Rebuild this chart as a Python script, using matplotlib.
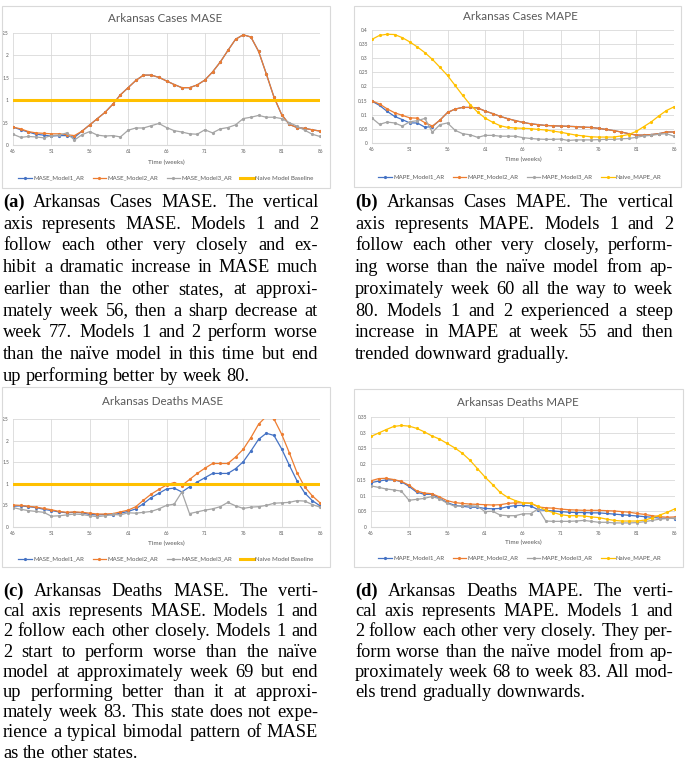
import matplotlib
matplotlib.use("Agg")
import matplotlib.pyplot as plt
from matplotlib.patches import Rectangle
from matplotlib.lines import Line2D
from matplotlib.ticker import FuncFormatter

W, H = 685, 764

weeks = list(range(46, 87))

# Arkansas cases MASE
cases_mase_m1 = [0.40, 0.34, 0.29, 0.24, 0.22, 0.20, 0.21, 0.21, 0.17, 0.31,
                 0.45, 0.59, 0.73, 0.91, 1.12, 1.28, 1.44, 1.56, 1.56, 1.51,
                 1.43, 1.35, 1.28, 1.28, 1.34, 1.45, 1.63, 1.85, 2.11, 2.36,
                 2.46, 2.41, 2.09, 1.59, 1.07, 0.68, 0.46, 0.39, 0.37, 0.34, 0.31]
cases_mase_m2 = [0.40, 0.36, 0.30, 0.27, 0.26, 0.25, 0.25, 0.23, 0.21, 0.31,
                 0.45, 0.59, 0.73, 0.91, 1.12, 1.28, 1.44, 1.56, 1.56, 1.51,
                 1.43, 1.35, 1.28, 1.28, 1.34, 1.45, 1.63, 1.85, 2.11, 2.36,
                 2.46, 2.41, 2.09, 1.59, 1.07, 0.68, 0.46, 0.39, 0.37, 0.34, 0.31]
cases_mase_m3 = [0.24, 0.17, 0.19, 0.18, 0.16, 0.21, 0.22, 0.27, 0.11, 0.23,
                 0.30, 0.22, 0.20, 0.21, 0.18, 0.33, 0.38, 0.38, 0.43, 0.48,
                 0.39, 0.32, 0.29, 0.25, 0.24, 0.34, 0.27, 0.36, 0.39, 0.45,
                 0.59, 0.62, 0.66, 0.62, 0.62, 0.59, 0.50, 0.42, 0.33, 0.24, 0.19]

# Arkansas cases MAPE
cases_mape_m1 = [0.148, 0.133, 0.112, 0.094, 0.083, 0.071, 0.071, 0.056, 0.058, 0.081,
                 0.108, 0.120, 0.126, 0.126, 0.124, 0.113, 0.104, 0.094, 0.086, 0.079,
                 0.073, 0.068, 0.065, 0.062, 0.061, 0.060, 0.059, 0.058, 0.056, 0.055,
                 0.052, 0.048, 0.044, 0.039, 0.033, 0.028, 0.028, 0.030, 0.033, 0.039, 0.039]
cases_mape_m2 = [0.149, 0.138, 0.121, 0.107, 0.098, 0.089, 0.088, 0.072, 0.060, 0.081,
                 0.108, 0.120, 0.126, 0.126, 0.124, 0.113, 0.104, 0.094, 0.086, 0.079,
                 0.073, 0.068, 0.065, 0.062, 0.061, 0.060, 0.059, 0.058, 0.056, 0.055,
                 0.052, 0.048, 0.044, 0.039, 0.033, 0.028, 0.028, 0.030, 0.033, 0.039, 0.039]
cases_mape_m3 = [0.088, 0.066, 0.074, 0.071, 0.060, 0.075, 0.079, 0.087, 0.038, 0.065,
                 0.071, 0.045, 0.033, 0.029, 0.020, 0.027, 0.027, 0.024, 0.024, 0.024,
                 0.019, 0.016, 0.014, 0.013, 0.013, 0.014, 0.009, 0.011, 0.011, 0.011,
                 0.012, 0.013, 0.013, 0.015, 0.016, 0.020, 0.025, 0.027, 0.031, 0.033, 0.024]
cases_mape_naive = [0.367, 0.381, 0.385, 0.384, 0.373, 0.358, 0.340, 0.320, 0.296, 0.268,
                    0.239, 0.204, 0.169, 0.136, 0.109, 0.088, 0.073, 0.061, 0.055, 0.053,
                    0.052, 0.051, 0.048, 0.046, 0.042, 0.038, 0.033, 0.028, 0.025, 0.022,
                    0.021, 0.021, 0.021, 0.025, 0.030, 0.041, 0.058, 0.075, 0.096, 0.115, 0.128]

# Arkansas deaths MASE
deaths_mase_m1 = [0.48, 0.49, 0.47, 0.45, 0.41, 0.38, 0.35, 0.33, 0.34, 0.33,
                  0.29, 0.28, 0.29, 0.28, 0.32, 0.36, 0.42, 0.54, 0.68, 0.78,
                  0.88, 0.90, 0.81, 0.93, 1.04, 1.14, 1.24, 1.24, 1.24, 1.35,
                  1.51, 1.76, 2.03, 2.17, 2.12, 1.81, 1.43, 1.07, 0.79, 0.61, 0.49]
deaths_mase_m2 = [0.51, 0.50, 0.48, 0.46, 0.43, 0.40, 0.36, 0.34, 0.35, 0.34,
                  0.32, 0.30, 0.30, 0.31, 0.35, 0.39, 0.47, 0.62, 0.76, 0.87,
                  0.97, 1.03, 0.96, 1.10, 1.24, 1.36, 1.47, 1.47, 1.47, 1.62,
                  1.80, 2.07, 2.38, 2.56, 2.50, 2.15, 1.72, 1.26, 0.93, 0.72, 0.56]
deaths_mase_m3 = [0.45, 0.41, 0.38, 0.36, 0.34, 0.25, 0.26, 0.28, 0.30, 0.29,
                  0.26, 0.24, 0.26, 0.29, 0.28, 0.33, 0.32, 0.34, 0.36, 0.42,
                  0.50, 0.53, 0.81, 0.31, 0.35, 0.39, 0.42, 0.47, 0.57, 0.49,
                  0.43, 0.46, 0.47, 0.50, 0.55, 0.56, 0.57, 0.61, 0.60, 0.52, 0.46]

# Arkansas deaths MAPE
deaths_mape_m1 = [0.141, 0.146, 0.150, 0.150, 0.144, 0.129, 0.111, 0.104, 0.104, 0.092,
                  0.078, 0.069, 0.066, 0.063, 0.063, 0.059, 0.058, 0.059, 0.065, 0.068,
                  0.069, 0.067, 0.055, 0.053, 0.051, 0.049, 0.047, 0.046, 0.046, 0.045,
                  0.045, 0.043, 0.041, 0.039, 0.037, 0.035, 0.033, 0.031, 0.028, 0.028, 0.027]
deaths_mape_m2 = [0.147, 0.154, 0.155, 0.151, 0.145, 0.133, 0.115, 0.108, 0.106, 0.096,
                  0.084, 0.078, 0.075, 0.073, 0.072, 0.071, 0.070, 0.071, 0.075, 0.077,
                  0.077, 0.076, 0.064, 0.061, 0.060, 0.057, 0.055, 0.054, 0.053, 0.053,
                  0.053, 0.052, 0.051, 0.049, 0.047, 0.043, 0.040, 0.036, 0.033, 0.031, 0.032]
deaths_mape_m3 = [0.131, 0.126, 0.121, 0.118, 0.114, 0.085, 0.088, 0.091, 0.097, 0.090,
                  0.076, 0.066, 0.068, 0.068, 0.066, 0.049, 0.050, 0.038, 0.036, 0.036,
                  0.042, 0.042, 0.058, 0.019, 0.018, 0.018, 0.018, 0.019, 0.021, 0.018,
                  0.015, 0.015, 0.013, 0.013, 0.013, 0.014, 0.017, 0.021, 0.025, 0.027, 0.028]
deaths_mape_naive = [0.288, 0.299, 0.310, 0.320, 0.323, 0.321, 0.314, 0.303, 0.290, 0.280,
                     0.266, 0.252, 0.235, 0.213, 0.186, 0.159, 0.135, 0.110, 0.094, 0.084,
                     0.077, 0.075, 0.066, 0.053, 0.046, 0.039, 0.036, 0.036, 0.035, 0.032,
                     0.030, 0.025, 0.021, 0.019, 0.019, 0.019, 0.022, 0.029, 0.038, 0.047, 0.058]

naive_mase = 1.0
xticks = [46, 51, 56, 61, 66, 71, 76, 81, 86]

mase_labels = ["MASE_Model1_AR", "MASE_Model2_AR", "MASE_Model3_AR", "Naive Model Baseline"]
mape_labels = ["MAPE_Model1_AR", "MAPE_Model2_AR", "MAPE_Model3_AR", "Naive_MAPE_AR"]

cap_a = ["(a) Arkansas Cases MASE. The vertical",
         "axis represents MASE. Models 1 and 2",
         "follow each other very closely and ex-",
         "hibit a dramatic increase in MASE much",
         "earlier than the other states, at approxi-",
         "mately week 56, then a sharp decrease at",
         "week 77. Models 1 and 2 perform worse",
         "than the naïve model in this time but end",
         "up performing better by week 80."]
cap_b = ["(b) Arkansas Cases MAPE. The vertical",
         "axis represents MAPE. Models 1 and 2",
         "follow each other very closely, perform-",
         "ing worse than the naïve model from ap-",
         "proximately week 60 all the way to week",
         "80. Models 1 and 2 experienced a steep",
         "increase in MAPE at week 55 and then",
         "trended downward gradually."]
cap_c = ["(c) Arkansas Deaths MASE. The verti-",
         "cal axis represents MASE. Models 1 and",
         "2 follow each other closely. Models 1 and",
         "2 start to perform worse than the naïve",
         "model at approximately week 69 but end",
         "up performing better than it at approxi-",
         "mately week 83. This state does not expe-",
         "rience a typical bimodal pattern of MASE",
         "as the other states."]
cap_d = ["(d) Arkansas Deaths MAPE. The verti-",
         "cal axis represents MAPE. Models 1 and",
         "2 follow each other very closely. They per-",
         "form worse than the naïve model from ap-",
         "proximately week 68 to week 83. All mod-",
         "els trend gradually downwards."]

BLUE, ORANGE, GRAY, YELLOW = "#4472C4", "#ED7D31", "#A5A5A5", "#FFC000"
TXT = "#595959"
SANS = ["Lato", "DejaVu Sans"]
SERIF = ["Liberation Serif", "DejaVu Serif"]

fig = plt.figure(figsize=(W / 100, H / 100), dpi=100)


def px_axes(x0, y0, x1, y1):
    # pixel box (top-left origin) -> figure axes
    return fig.add_axes([x0 / W, 1 - y1 / H, (x1 - x0) / W, (y1 - y0) / H])


def box(x0, y0, x1, y1):
    r = Rectangle((x0 / W, 1 - y1 / H), (x1 - x0) / W, (y1 - y0) / H,
                  transform=fig.transFigure, fill=False, ec="#D9D9D9", lw=0.8)
    fig.add_artist(r)


def chart(frame, plot, title, title_xy, xlabel_y, legend_xy, ymax, ystep,
          series, labels, naive_line=None):
    box(*frame)
    ax = px_axes(*plot)
    for s, c in zip(series, [BLUE, ORANGE, GRAY, YELLOW]):
        ax.plot(weeks, s, color=c, lw=0.9, marker="o", ms=2.3, mew=0)
    if naive_line is not None:
        ax.plot([weeks[0], weeks[-1]], [naive_line, naive_line], color=YELLOW, lw=2.2)
    ax.set_xlim(46, 86)
    ax.set_ylim(0, ymax)
    ax.set_xticks(xticks)
    n = int(round(ymax / ystep))
    ax.set_yticks([ystep * i for i in range(n + 1)])
    ax.yaxis.set_major_formatter(FuncFormatter(lambda v, p: "%g" % round(v, 3)))
    ax.grid(True, color="#D9D9D9", lw=0.6)
    ax.set_axisbelow(True)
    for side in ["top", "right", "left"]:
        ax.spines[side].set_visible(False)
    ax.spines["bottom"].set_color("#D9D9D9")
    ax.tick_params(length=0, labelsize=3.4, labelcolor=TXT, pad=3)
    for t in ax.get_xticklabels() + ax.get_yticklabels():
        t.set_family(SANS)
    fig.text(title_xy[0] / W, 1 - title_xy[1] / H, title, ha="center", va="center",
             fontsize=8.4, color=TXT, family=SANS)
    cx = (plot[0] + plot[2]) / 2
    fig.text(cx / W, 1 - xlabel_y / H, "Time (weeks)", ha="center", va="center",
             fontsize=4.6, color=TXT, family=SANS)
    handles = []
    for i, c in enumerate([BLUE, ORANGE, GRAY, YELLOW]):
        if i == 3 and naive_line is not None:
            handles.append(Line2D([], [], color=c, lw=2.2))
        else:
            handles.append(Line2D([], [], color=c, lw=0.9, marker="o", ms=2.3, mew=0))
    fig.legend(handles, labels, loc="center", ncol=4,
               bbox_to_anchor=(legend_xy[0] / W, 1 - legend_xy[1] / H),
               frameon=False, prop={"family": SANS, "size": 4.4},
               labelcolor=TXT, handlelength=2.2, handletextpad=0.2,
               columnspacing=1.4, borderpad=0)
    return ax


def caption(lines, x0, x1, base_y, step, size):
    r = fig.canvas.get_renderer()
    space = size * 0.25 * fig.dpi / 72
    min_gap = size * 0.14 * fig.dpi / 72
    for i, line in enumerate(lines):
        words = line.split()
        ts = []
        for j, w in enumerate(words):
            ts.append(fig.text(0, 0, w, fontsize=size, family=SERIF, color="black",
                               weight="bold" if (i == 0 and j == 0) else "normal",
                               va="baseline", ha="left"))
        widths = [t.get_window_extent(r).width for t in ts]
        if i == len(lines) - 1 or len(ts) == 1:
            gap = space
        else:
            gap = max(min_gap, (x1 - x0 - sum(widths)) / (len(ts) - 1))
        x = x0
        y = base_y + i * step
        for t, wd in zip(ts, widths):
            t.set_position((x / W, 1 - y / H))
            x += wd + gap


chart((2, 6, 330, 188), (13, 33, 320, 145), "Arkansas Cases MASE", (165, 18), 162, (166, 178),
      2.5, 0.5, [cases_mase_m1, cases_mase_m2, cases_mase_m3], mase_labels, naive_line=naive_mase)
chart((354, 6, 681, 187), (372, 30, 674, 143), "Arkansas Cases MAPE", (520, 16), 159, (520, 177),
      0.4, 0.05, [cases_mape_m1, cases_mape_m2, cases_mape_m3, cases_mape_naive], mape_labels)
chart((2, 387, 330, 567), (13, 419, 320, 527), "Arkansas Deaths MASE", (163, 401), 543, (166, 559),
      2.5, 0.5, [deaths_mase_m1, deaths_mase_m2, deaths_mase_m3], mase_labels, naive_line=naive_mase)
chart((354, 389, 683, 567), (371, 417, 675, 527), "Arkansas Deaths MAPE", (518, 403), 542, (520, 558),
      0.35, 0.05, [deaths_mape_m1, deaths_mape_m2, deaths_mape_m3, deaths_mape_naive], mape_labels)

fs = 13.2
caption(cap_a, 3, 318, 207, 21.7, fs)
caption(cap_b, 355, 673, 207, 21.7, fs)
caption(cap_c, 3, 318, 596, 20.2, fs)
caption(cap_d, 355, 673, 596, 20.2, fs)

fig.savefig("out.png", dpi=100)
